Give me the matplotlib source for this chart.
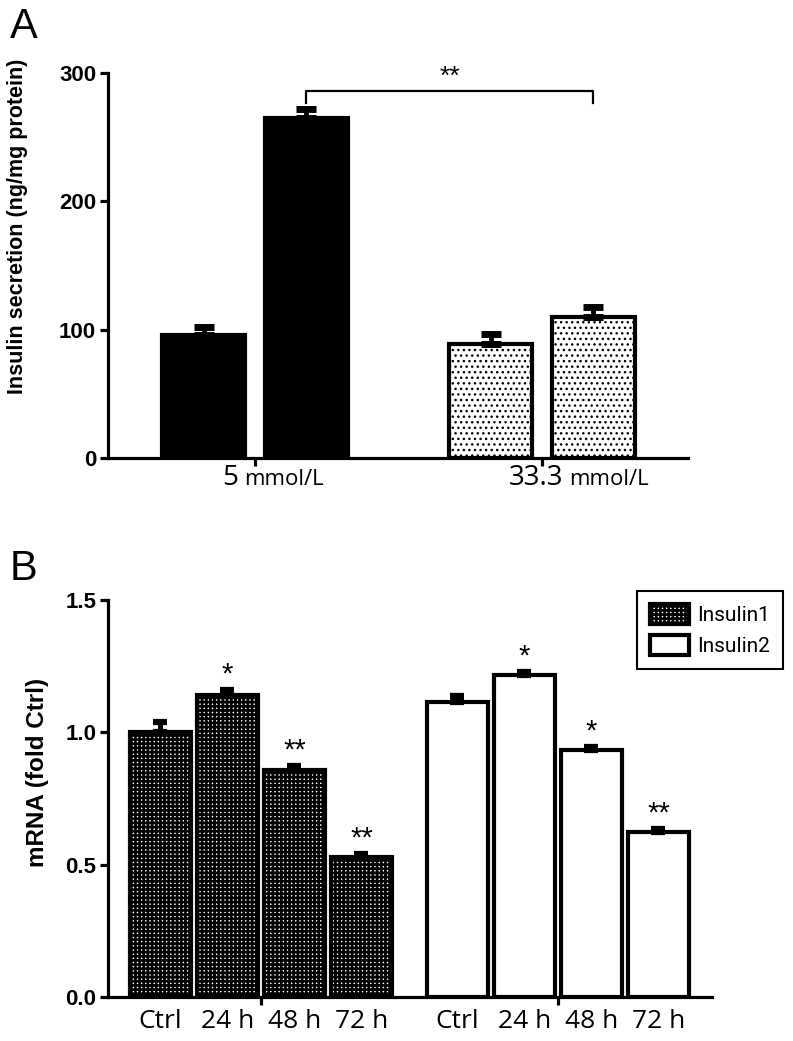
import numpy as np
import matplotlib
matplotlib.use("Agg")
import matplotlib.pyplot as plt
from matplotlib.patches import Patch

# ---- panel A data ----
glucose = ["5", "33.3"]
glucose_unit = "mmol/L"
secretion = [96, 265, 89, 110]
secretion_err = [6, 7, 8, 8]
a_fill = ["black", "black", "white", "white"]
a_hatch = [None, None, "...", "..."]

# ---- panel B data ----
times = ["Ctrl", "24 h", "48 h", "72 h"]
ins1 = [1.0, 1.14, 0.857, 0.53]
ins1_err = [0.038, 0.02, 0.015, 0.012]
ins2 = [1.113, 1.215, 0.932, 0.623]
ins2_err = [0.025, 0.012, 0.012, 0.012]
ins1_sig = ["", "*", "**", "**"]
ins2_sig = ["", "*", "*", "**"]

W, H = 793, 1041
fig = plt.figure(figsize=(W / 100, H / 100), dpi=100)

bold = dict(family=["Liberation Sans", "DejaVu Sans"], weight="bold")
seg = ["Open Sans", "DejaVu Sans"]


def style_axes(ax):
    for s in ["top", "right"]:
        ax.spines[s].set_visible(False)
    for s in ["left", "bottom"]:
        ax.spines[s].set_linewidth(2.3)
    ax.tick_params(which="major", direction="out", length=5.5, width=2.3, pad=3)
    for lab in ax.get_yticklabels():
        lab.set_fontproperties(dict(bold, size=16))


def hatch_lw(patches, lw):
    for p in patches:
        if hasattr(p, "set_hatch_linewidth"):
            p.set_hatch_linewidth(lw)


# ================= Panel A =================
axA = fig.add_axes([108 / W, 1 - 458 / H, 580 / W, 385 / H])
centers = np.arange(len(glucose))
offs = 0.179
xa = np.array([c + d for c in centers for d in (-offs, offs)])
plt.rcParams["hatch.linewidth"] = 1.0
bars = axA.bar(xa, secretion, width=0.29, color=a_fill, edgecolor="black",
               linewidth=3, zorder=2)
for b, h in zip(bars, a_hatch):
    if h:
        b.set_hatch(h)
hatch_lw(bars, 1.0)
axA.errorbar(xa, secretion, yerr=[np.zeros(4), secretion_err], fmt="none",
             ecolor="black", elinewidth=3.5, capsize=7, capthick=5, zorder=3)
axA.set_xlim(-0.512, 1.509)
axA.set_ylim(0, 300)
axA.set_yticks([0, 100, 200, 300])
axA.set_xticks(centers)
axA.set_xticklabels(["", ""])
style_axes(axA)

# significance bracket bar 2 vs bar 4
yb0, yb1 = 277, 286
axA.plot([xa[1], xa[1], xa[3], xa[3]], [yb0, yb1, yb1, yb0], color="black",
         lw=1.6, zorder=3)
axA.text((xa[1] + xa[3]) / 2, yb1 + 1.5, "**", ha="center", va="bottom",
         fontsize=19, family=["Liberation Sans", "DejaVu Sans"])

for c, g in zip(centers, glucose):
    num = axA.annotate(g, xy=(c, 0), xycoords=axA.get_xaxis_transform(),
                       xytext=(-23.5, -19.5), textcoords="offset points",
                       ha="left", va="baseline", fontsize=20, family=seg)
    axA.annotate(glucose_unit, xy=(1, 0),
                 xycoords=(num, axA.get_xaxis_transform()),
                 xytext=(4, -19.5), textcoords="offset points",
                 ha="left", va="baseline", fontsize=16, family=seg)

fig.text(18 / W, 1 - 226 / H, "Insulin secretion (ng/mg protein)",
         rotation=90, ha="center", va="center", fontsize=15.5, **bold)
fig.text(10 / W, 1 - 38 / H, "A", fontsize=30,
         family=["Liberation Sans", "DejaVu Sans"])

# ================= Panel B =================
axB = fig.add_axes([108 / W, 1 - 997 / H, 604 / W, 397 / H])
x1 = np.arange(len(times), dtype=float)
x2 = x1 + 4.43
plt.rcParams["hatch.linewidth"] = 1.9
b1 = axB.bar(x1, ins1, width=0.91, color="white", edgecolor="black",
             hatch="++++", linewidth=3, zorder=2)
hatch_lw(b1, 1.9)
b2 = axB.bar(x2, ins2, width=0.91, color="white", edgecolor="black",
             linewidth=3, zorder=2)
for xs, vals, errs, sigs in [(x1, ins1, ins1_err, ins1_sig),
                             (x2, ins2, ins2_err, ins2_sig)]:
    axB.errorbar(xs, vals, yerr=[np.zeros(len(vals)), errs], fmt="none",
                 ecolor="black", elinewidth=3.5, capsize=5, capthick=4.5,
                 zorder=3)
    for x, v, e, s in zip(xs, vals, errs, sigs):
        if s:
            axB.annotate(s, xy=(x, v + e), xytext=(0, 1), textcoords="offset points",
                         ha="center", va="bottom", fontsize=21,
                         family=["Liberation Sans", "DejaVu Sans"])

axB.set_xlim(-0.78, 8.23)
axB.set_ylim(0, 1.5)
axB.set_yticks([0.0, 0.5, 1.0, 1.5])
axB.set_yticklabels(["0.0", "0.5", "1.0", "1.5"])
axB.set_xticks([x1.mean(), x2.mean()])
axB.set_xticklabels(["", ""])
axB.set_xticks(np.concatenate([x1, x2]), times + times, minor=True)
style_axes(axB)
axB.tick_params(axis="x", which="minor", length=0, pad=9)
for lab in axB.get_xticklabels(minor=True):
    lab.set_fontfamily(seg)
    lab.set_fontsize(19)

leg = axB.legend(handles=[Patch(facecolor="white", edgecolor="black", hatch="++++",
                                linewidth=3, label="Insulin1"),
                          Patch(facecolor="white", edgecolor="black", linewidth=3,
                                label="Insulin2")],
                 loc="upper right", bbox_to_anchor=(783 / W, 1 - 591 / H),
                 bbox_transform=fig.transFigure, borderaxespad=0,
                 fancybox=False, framealpha=1, edgecolor="black",
                 prop=dict(family=["Liberation Sans Narrow", "Roboto", "DejaVu Sans"],
                           size=15),
                 handlelength=1.9, handleheight=1.1, handletextpad=0.4,
                 labelspacing=0.5, borderpad=0.6)
leg.get_frame().set_linewidth(1.5)

fig.text(38 / W, 1 - 772 / H, "mRNA (fold Ctrl)", rotation=90, ha="center",
         va="center", fontsize=17.5, **bold)
fig.text(10 / W, 1 - 580 / H, "B", fontsize=30,
         family=["Liberation Sans", "DejaVu Sans"])

fig.savefig("out.png", dpi=100)
